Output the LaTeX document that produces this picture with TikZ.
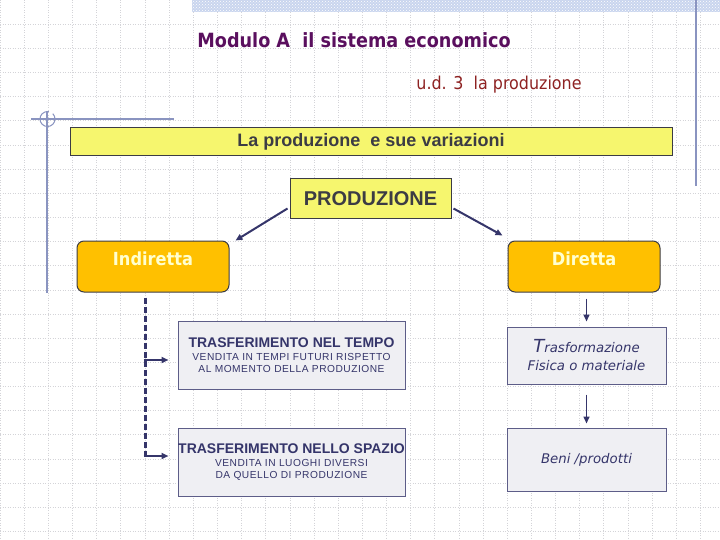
\documentclass[tikz,border=0pt]{standalone}
\usepackage{fontspec}
\setmainfont{Liberation Sans}
\newfontfamily\tahomafont{DejaVu Sans Condensed}
\newfontfamily\verdanafont{DejaVu Sans}
\newfontfamily\spacedfont[LetterSpace=5]{Liberation Sans}
\usepackage{tikz}
\usetikzlibrary{arrows.meta,positioning,calc,patterns}
\definecolor{prInk}{HTML}{3C3C44}
\definecolor{prNavy}{HTML}{35356A}
\definecolor{prPurple}{HTML}{5A0F5E}
\definecolor{prRed}{HTML}{8E2222}
\definecolor{prYellow}{HTML}{F6F66E}
\definecolor{prGold}{HTML}{FFC000}
\definecolor{prCream}{HTML}{FFFFD0}
\definecolor{prGrey}{HTML}{EFEFF3}
\definecolor{prGrid}{HTML}{D4D4D8}
\definecolor{prRule}{HTML}{8A94C0}
\definecolor{prBand}{HTML}{C9D5EE}
\tikzset{
  gridline/.style ={prGrid,line width=0.6pt,dash pattern=on 1pt off 1.5pt},
  rule/.style     ={prRule,line width=1.2pt},
  box/.style      ={draw=prInk,line width=1pt,inner sep=0pt},
  yellowbox/.style={box,fill=prYellow},
  goldbox/.style  ={box,fill=prGold,rounded corners=7pt,minimum width=152pt,minimum height=51pt},
  greybox/.style  ={box,draw=prNavy!80,fill=prGrey,align=center,text=prNavy},
  goldlbl/.style  ={font=\tahomafont\bfseries\fontsize{18}{20}\selectfont,text=prCream,anchor=center},
  flow/.style     ={-{Triangle[length=7pt,width=6pt]},prNavy,line width=2pt},
  down/.style     ={-{Triangle[length=7pt,width=6pt]},prNavy,line width=1.5pt},
  trunk/.style    ={prNavy,line width=3pt,dash pattern=on 6pt off 3pt},
  branch/.style   ={-{Triangle[length=7pt,width=6pt]},prNavy,line width=2pt},
}
\begin{document}
\begin{tikzpicture}[x=1pt,y=-1pt]
\useasboundingbox (0,0) rectangle (720,540);
% background grid
\foreach \i in {0,...,29}
  \draw[gridline] (\i*24.15,0) -- (\i*24.15,540);
\foreach \j in {1,...,22}
  \draw[gridline] (0,\j*24.15) -- (720,\j*24.15);
\fill[prBand] (192,0) rectangle (720,12);
\fill[pattern=crosshatch dots,pattern color=white] (192,0) rectangle (720,12);
\draw[rule] (696,0) -- (696,186);
\draw[rule] (47,111) -- (47,293);
\draw[rule] (31,119) -- (174,119);
\draw[rule,line width=1pt] (52.8,113.7) arc[start angle=315,end angle=640,radius=7.5];

% headings
\node[font=\tahomafont\bfseries\fontsize{19.6}{23}\selectfont,text=prPurple] (title) at (354,40)
  {Modulo A\ \ il sistema economico};
\node[font=\tahomafont\fontsize{17.7}{20}\selectfont,text=prRed] (sub) at (499,85)
  {u.d. 3\ \ la produzione};
\node[yellowbox,minimum width=602pt,minimum height=28pt,
      font=\bfseries\fontsize{18}{20}\selectfont,text=prInk] (banner) at (371,142)
  {La produzione\ \ e sue variazioni};

% tree
\node[yellowbox,minimum width=161pt,minimum height=40pt,
      font=\bfseries\fontsize{20}{22}\selectfont,text=prInk] (prod) at (370.5,199) {PRODUZIONE};
\node[goldbox,label={[goldlbl,yshift=-18pt]north:Indiretta}] (ind) at (153,266.5) {};
\node[goldbox,label={[goldlbl,yshift=-18pt]north:Diretta}] (dir) at (584,266.5) {};
\draw[flow] ([xshift=-2pt,yshift=11pt]prod.south west) -- ([xshift=6pt]ind.north east);
\draw[flow] ([xshift=2pt,yshift=11pt]prod.south east) -- ([xshift=-5pt,yshift=5pt]dir.north west);

% indiretta
\node[greybox,minimum width=227pt,minimum height=68pt] (t1) at (291.5,355)
  {{\bfseries\fontsize{14}{15}\selectfont TRASFERIMENTO NEL TEMPO}\\[1pt]
   {\spacedfont\fontsize{10.2}{13}\selectfont VENDITA IN TEMPI FUTURI RISPETTO}\\
   {\spacedfont\fontsize{10.2}{13}\selectfont AL MOMENTO DELLA PRODUZIONE}};
\node[greybox,minimum width=227pt,minimum height=68pt] (t2) at (291.5,462)
  {{\bfseries\fontsize{14}{15}\selectfont TRASFERIMENTO NELLO SPAZIO}\\[1pt]
   {\spacedfont\fontsize{10.2}{13}\selectfont VENDITA IN LUOGHI DIVERSI}\\
   {\spacedfont\fontsize{10.2}{13}\selectfont DA QUELLO DI PRODUZIONE}};
\coordinate (tr) at ([xshift=-8pt,yshift=-5pt]ind.south);
\coordinate (tb) at ($(tr |- t2.west)+(0,-4)$);
\draw[trunk] (tr) -- (tb);
\draw[branch] ($(tr |- t1.west)+(-1.5,5)$) -- ([xshift=-9pt,yshift=-5pt]t1.west);
\draw[branch] ($(tr |- t2.west)+(-1.5,-6)$) -- ([xshift=-9pt,yshift=6pt]t2.west);

% diretta
\node[greybox,minimum width=159pt,minimum height=57pt,
      font=\verdanafont\itshape\fontsize{13.3}{18}\selectfont] (t3) at (586.5,355.5)
  {{\fontsize{18}{18}\selectfont T}rasformazione\\Fisica o materiale};
\node[greybox,minimum width=159pt,minimum height=63pt,
      font=\verdanafont\itshape\fontsize{13.3}{15}\selectfont] (t4) at (586.5,459.5) {Beni /prodotti};
\draw[down] ($(dir.south -| t3.north)+(0,6)$) -- ([yshift=5pt]t3.north);
\draw[down] ([yshift=-10pt]t3.south) -- ([yshift=4pt]t4.north);
\end{tikzpicture}
\end{document}
